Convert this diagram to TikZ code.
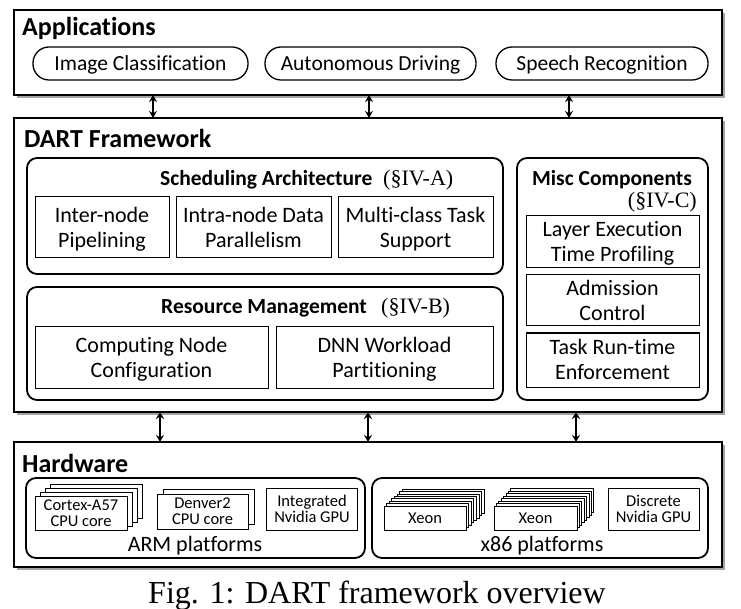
\documentclass[tikz,border=0pt]{standalone}
\usepackage{fontspec}
\setmainfont[Ligatures={NoCommon}]{Carlito}
\newfontfamily\tnr{Liberation Serif}
\usetikzlibrary{arrows.meta,shadows}
\begin{document}
\begin{tikzpicture}[x=1pt,y=-1pt,
 outerbox/.style={draw,line width=2.6pt,fill=white,drop shadow={shadow xshift=3pt,shadow yshift=-3pt,opacity=.6,fill=black!60},inner sep=0,outer sep=0},
 groupbox/.style={draw,line width=1.8pt,rounded corners=10pt,fill=white,inner sep=0,outer sep=0},
 pill/.style={draw,line width=1.3pt,rounded corners=16pt,inner sep=0,font=\fontsize{21.5}{25}\selectfont,text height=13.8pt,text depth=0pt},
 comp/.style={draw,line width=1pt,inner sep=0,align=center,font=\fontsize{22}{25}\selectfont,text height=39.2pt,text depth=0pt},
 hwbox/.style={draw,line width=.9pt,fill=white,inner sep=0,align=center,font=\fontsize{16.5}{16}\selectfont,text height=26.6pt,text depth=0pt},
 hwone/.style={hwbox,text height=10.6pt},
 ttl/.style={font=\fontsize{26}{30}\selectfont\bfseries,anchor=base west,inner sep=0},
 sub/.style={font=\fontsize{21.5}{26}\selectfont\bfseries,inner sep=0},
 sec/.style={font=\tnr\fontsize{22}{26}\selectfont,inner sep=0},
 lbl/.style={font=\fontsize{22}{26}\selectfont,anchor=base,inner sep=0},
 dbl/.style={{Stealth[length=7pt,width=8pt]}-{Stealth[length=7pt,width=8pt]},line width=1.6pt},
]
\useasboundingbox (0,0) rectangle (741,609);

% ---------- Applications ----------
\node[outerbox,minimum width=708pt,minimum height=85pt] (app) at (368,52.5) {};
\node[ttl] (apptitle) at (22,36) {Applications};
\node[pill,minimum width=215pt,minimum height=33pt] (p1) at (140.5,63.5) {Image Classification};
\node[pill,minimum width=211pt,minimum height=33pt] (p2) at (370.5,63.5) {Autonomous Driving};
\node[pill,minimum width=212pt,minimum height=33pt] (p3) at (602,63.5) {Speech Recognition};

% ---------- DART Framework ----------
\node[outerbox,minimum width=708pt,minimum height=294pt] (dart) at (368,265) {};
\node[ttl] (darttitle) at (24,148) {DART Framework};

\node[groupbox,minimum width=476pt,minimum height=116pt] (sched) at (265,216) {};
\node[sub,anchor=base west] (schedt) at (160,186) {Scheduling Architecture};
\node[sec,anchor=base west] (schedsec) at (383,186) {(§IV-A)};
\node[comp,minimum width=134pt,minimum height=61pt] (s1) at (102,227.5) {Inter-node\\Pipelining};
\node[comp,minimum width=155pt,minimum height=61pt] (s2) at (253.5,227.5) {Intra-node Data\\Parallelism};
\node[comp,minimum width=155pt,minimum height=61pt] (s3) at (415.5,227.5) {Multi-class Task\\Support};

\node[groupbox,minimum width=476pt,minimum height=113pt] (res) at (265,343.5) {};
\node[sub,anchor=base west] (rest) at (161,314) {Resource Management};
\node[sec,anchor=base west] (ressec) at (381,314) {(§IV-B)};
\node[comp,minimum width=233pt,minimum height=61pt] (r1) at (151.5,357.5) {Computing Node\\Configuration};
\node[comp,minimum width=217pt,minimum height=61pt] (r2) at (384.5,357.5) {DNN Workload\\Partitioning};

\node[groupbox,minimum width=191pt,minimum height=242pt] (misc) at (612.5,279) {};
\node[sub,anchor=base] (misct) at (612,186) {Misc Components};
\node[sec,anchor=base east] (miscsec) at (697,208) {(§IV-C)};
\node[comp,minimum width=173pt,minimum height=52pt] (m1) at (612.5,242) {Layer Execution\\Time Profiling};
\node[comp,minimum width=173pt,minimum height=51pt] (m2) at (612.5,300.5) {Admission\\Control};
\node[comp,minimum width=173pt,minimum height=54pt] (m3) at (612.5,360) {Task Run-time\\Enforcement};

% ---------- Hardware ----------
\node[outerbox,minimum width=708pt,minimum height=125pt] (hw) at (368,504.5) {};
\node[ttl] (hwtitle) at (22,472) {Hardware};

\node[groupbox,minimum width=339pt,minimum height=80pt] (arm) at (195.5,518) {};
\node[groupbox,minimum width=336pt,minimum height=80pt] (x86) at (540,518) {};
\node[lbl] (armlbl) at (195,551) {ARM platforms};
\node[lbl] (x86lbl) at (542,551) {x86 platforms};

% Cortex-A57 stack
\foreach \i in {3,2,1}
  \node[hwbox,minimum width=92pt,minimum height=34pt] (cx\i) at ({81+5*\i},{513-3.7*\i}) {};
\node[hwbox,minimum width=92pt,minimum height=34pt] (cx) at (81,513) {Cortex-A57\\CPU core};
% Denver2 stack
\node[hwbox,minimum width=91pt,minimum height=35pt] (dv1) at (208.5,506.5) {};
\node[hwbox,minimum width=91pt,minimum height=35pt] (dv) at (202.5,511.5) {Denver2\\CPU core};
% Integrated GPU
\node[hwbox,minimum width=91pt,minimum height=42pt] (igpu) at (312,509) {Integrated\\Nvidia GPU};

% Xeon stacks
\foreach \i in {7,6,...,1}
  \node[hwone,minimum width=82pt,minimum height=24pt] (xa\i) at ({425+2.6*\i},{518-2.4*\i}) {};
\node[hwone,minimum width=82pt,minimum height=24pt] (xa) at (425,518) {Xeon};
\foreach \i in {7,6,...,1}
  \node[hwone,minimum width=83pt,minimum height=24pt] (xb\i) at ({535.5+2.4*\i},{518-2.5*\i}) {};
\node[hwone,minimum width=83pt,minimum height=24pt] (xb) at (535.5,518) {Xeon};
% Discrete GPU
\node[hwbox,minimum width=91pt,minimum height=42pt] (dgpu) at (653.5,509) {Discrete\\Nvidia GPU};

% ---------- connectors ----------
\coordinate (a1) at (153,0);
\coordinate (a2) at (369,0);
\coordinate (a3) at (569,0);
\coordinate (b1) at (160,0);
\coordinate (b2) at (368,0);
\coordinate (b3) at (576,0);
\draw[dbl] (app.south -| a1) -- (dart.north -| a1);
\draw[dbl] (app.south -| a2) -- (dart.north -| a2);
\draw[dbl] (app.south -| a3) -- (dart.north -| a3);
\draw[dbl] (dart.south -| b1) -- (hw.north -| b1);
\draw[dbl] (dart.south -| b2) -- (hw.north -| b2);
\draw[dbl] (dart.south -| b3) -- (hw.north -| b3);

% ---------- caption ----------
\node[font=\tnr\fontsize{32}{36}\selectfont,anchor=base,inner sep=0] (cap) at (377,603) {Fig. 1: DART framework overview};
\end{tikzpicture}
\end{document}
